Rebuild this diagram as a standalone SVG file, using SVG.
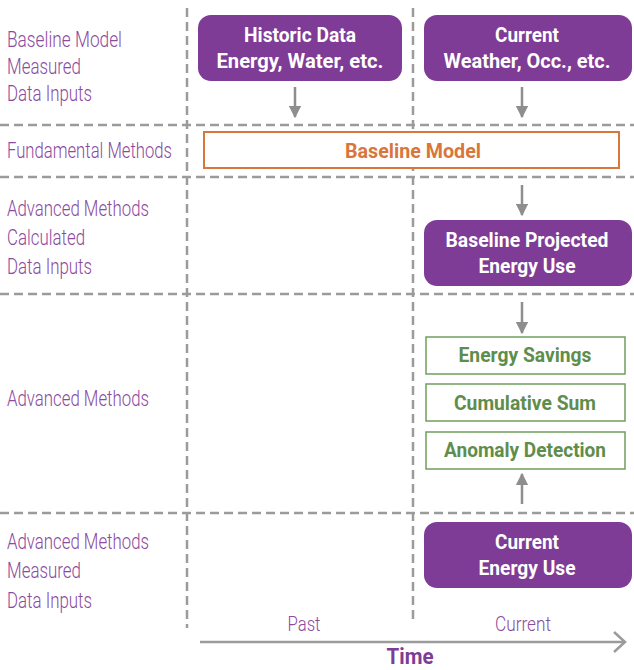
<svg xmlns="http://www.w3.org/2000/svg" width="634" height="670" viewBox="0 0 634 670">
<defs>
<style>
.grid{stroke:#9b9b9b;stroke-width:2.5;stroke-dasharray:9 5;fill:none}
.lbl{font-family:Roboto,"Liberation Sans",sans-serif;font-size:22px;font-weight:300;fill:#8b4aa0}
.pbox{fill:#7e3c96}
.ptxt{font-family:Roboto,"Liberation Sans",sans-serif;font-size:21px;font-weight:bold;fill:#fff;text-anchor:middle}
.gbox{fill:#fff;stroke:#6f9e5c;stroke-width:1.5}
.gtxt{font-family:Roboto,"Liberation Sans",sans-serif;font-size:21px;font-weight:bold;fill:#5f8d4c;text-anchor:middle}
.arr{stroke:#8e8e8e;stroke-width:2.5;fill:none}
.tl{font-family:Roboto,"Liberation Sans",sans-serif;font-size:21px;font-weight:300;fill:#8b4aa0;text-anchor:middle}
</style>
<marker id="ah" viewBox="0 0 10 10" refX="9" refY="5" markerWidth="5" markerHeight="5" orient="auto" markerUnits="strokeWidth"><path d="M0,0 L10,5 L0,10 z" fill="#8e8e8e"/></marker>
</defs>
<rect width="634" height="670" fill="#fff"/>
<g id="grid">
<line class="grid" x1="187" y1="8" x2="187" y2="628"/>
<line class="grid" x1="413" y1="8" x2="413" y2="620"/>
<line class="grid" x1="0" y1="125" x2="634" y2="125"/>
<line class="grid" x1="0" y1="177" x2="634" y2="177"/>
<line class="grid" x1="0" y1="294" x2="634" y2="294"/>
<line class="grid" x1="0" y1="513" x2="634" y2="513"/>
</g>
<g id="row-labels">
<text class="lbl" x="7" y="47" textLength="115" lengthAdjust="spacingAndGlyphs">Baseline Model</text>
<text class="lbl" x="7" y="74" textLength="74" lengthAdjust="spacingAndGlyphs">Measured</text>
<text class="lbl" x="7" y="101" textLength="85" lengthAdjust="spacingAndGlyphs">Data Inputs</text>
<text class="lbl" x="7" y="158" textLength="165" lengthAdjust="spacingAndGlyphs">Fundamental Methods</text>
<text class="lbl" x="7" y="216" textLength="142" lengthAdjust="spacingAndGlyphs">Advanced Methods</text>
<text class="lbl" x="7" y="245" textLength="78" lengthAdjust="spacingAndGlyphs">Calculated</text>
<text class="lbl" x="7" y="274" textLength="85" lengthAdjust="spacingAndGlyphs">Data Inputs</text>
<text class="lbl" x="7" y="406" textLength="142" lengthAdjust="spacingAndGlyphs">Advanced Methods</text>
<text class="lbl" x="7" y="549" textLength="142" lengthAdjust="spacingAndGlyphs">Advanced Methods</text>
<text class="lbl" x="7" y="578" textLength="74" lengthAdjust="spacingAndGlyphs">Measured</text>
<text class="lbl" x="7" y="608" textLength="85" lengthAdjust="spacingAndGlyphs">Data Inputs</text>
</g>
<g id="historic-data">
<rect class="pbox" x="198" y="15" width="204" height="66" rx="13"/>
<text class="ptxt" x="300" y="42" textLength="112" lengthAdjust="spacingAndGlyphs">Historic Data</text>
<text class="ptxt" x="300" y="68" textLength="167" lengthAdjust="spacingAndGlyphs">Energy, Water, etc.</text>
</g>
<g id="current-weather">
<rect class="pbox" x="424" y="15" width="208" height="66" rx="13"/>
<text class="ptxt" x="527" y="42" textLength="64" lengthAdjust="spacingAndGlyphs">Current</text>
<text class="ptxt" x="527" y="68" textLength="167" lengthAdjust="spacingAndGlyphs">Weather, Occ., etc.</text>
</g>
<g id="baseline-model">
<rect x="204" y="132" width="415" height="36" fill="#fff" stroke="#d9773a" stroke-width="2"/>
<text x="413" y="158" font-family="Roboto,'Liberation Sans',sans-serif" font-size="21" font-weight="bold" fill="#d9773a" text-anchor="middle" textLength="136" lengthAdjust="spacingAndGlyphs">Baseline Model</text>
</g>
<g id="baseline-projected">
<rect class="pbox" x="424" y="220" width="208" height="66" rx="13"/>
<text class="ptxt" x="527" y="247" textLength="163" lengthAdjust="spacingAndGlyphs">Baseline Projected</text>
<text class="ptxt" x="527" y="273" textLength="97" lengthAdjust="spacingAndGlyphs">Energy Use</text>
</g>
<g id="energy-savings">
<rect class="gbox" x="426" y="337" width="199" height="37"/>
<text class="gtxt" x="525" y="362" textLength="133" lengthAdjust="spacingAndGlyphs">Energy Savings</text>
</g>
<g id="cumulative-sum">
<rect class="gbox" x="426" y="384" width="199" height="37"/>
<text class="gtxt" x="525" y="410" textLength="142" lengthAdjust="spacingAndGlyphs">Cumulative Sum</text>
</g>
<g id="anomaly-detection">
<rect class="gbox" x="426" y="432" width="199" height="37"/>
<text class="gtxt" x="525" y="457" textLength="162" lengthAdjust="spacingAndGlyphs">Anomaly Detection</text>
</g>
<g id="current-energy">
<rect class="pbox" x="424" y="522" width="208" height="66" rx="13"/>
<text class="ptxt" x="527" y="549" textLength="64" lengthAdjust="spacingAndGlyphs">Current</text>
<text class="ptxt" x="527" y="575" textLength="97" lengthAdjust="spacingAndGlyphs">Energy Use</text>
</g>
<g id="connectors">
<line class="arr" x1="295" y1="87" x2="295" y2="117" marker-end="url(#ah)"/>
<line class="arr" x1="522" y1="87" x2="522" y2="117" marker-end="url(#ah)"/>
<line class="arr" x1="522" y1="185" x2="522" y2="215" marker-end="url(#ah)"/>
<line class="arr" x1="522" y1="302" x2="522" y2="333" marker-end="url(#ah)"/>
<line class="arr" x1="522" y1="504" x2="522" y2="474" marker-end="url(#ah)"/>
<line x1="200" y1="642" x2="624" y2="642" stroke="#9b9b9b" stroke-width="2.5"/>
<polyline points="614,632 625,642 614,652" fill="none" stroke="#9b9b9b" stroke-width="2.5"/>
</g>
<g id="time-axis">
<text class="tl" x="304" y="631" textLength="33" lengthAdjust="spacingAndGlyphs">Past</text>
<text class="tl" x="523" y="631" textLength="56" lengthAdjust="spacingAndGlyphs">Current</text>
<text x="410" y="664" font-family="Roboto,'Liberation Sans',sans-serif" font-size="22" font-weight="bold" fill="#7e3c96" text-anchor="middle" textLength="47" lengthAdjust="spacingAndGlyphs">Time</text>
</g>
</svg>
